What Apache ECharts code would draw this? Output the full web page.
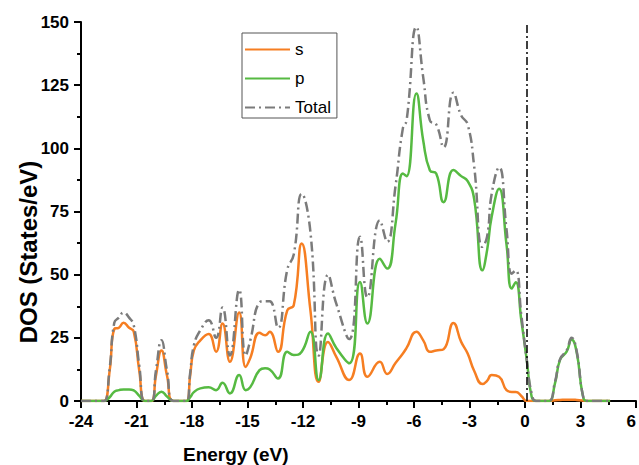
<!DOCTYPE html>
<html>
<head>
<meta charset="utf-8">
<script src="https://cdn.jsdelivr.net/npm/echarts@6/dist/echarts.min.js"></script>
<style>html,body{margin:0;padding:0;background:#fff;}#c{width:639px;height:465px;}</style>
</head>
<body>
<div id="c"></div>
<script>
var energy = [-24, -23, -22.75, -22.45, -22.2, -21.95, -21.7, -21.4, -21.15, -20.85, -20.55, -20.2, -19.95, -19.65, -19.35, -19.0, -18.3, -18.1, -17.9, -17.55, -17.1, -16.7, -16.35, -15.95, -15.45, -15.1, -14.85, -14.35, -14.05, -13.8, -13.35, -12.85, -12.5, -12.07, -11.6, -11.15, -10.65, -10.2, -9.5, -8.92, -8.52, -7.85, -7.45, -7.0, -6.6, -6.4, -5.87, -5.5, -5.14, -4.8, -4.4, -3.87, -3.45, -3.1, -2.75, -2.3, -2.05, -1.8, -1.4, -1.0, -0.72, -0.5, -0.2, 0.1, 0.36, 0.6, 1.26, 1.62, 1.89, 2.25, 2.52, 2.8, 3.12, 3.35, 4.6];
var sDos = [0, 0, 0, 12, 28.5, 29, 31, 29, 27.5, 12, 0, 0, 10, 20, 10, 0, 0, 10, 20, 24, 26.5, 19.5, 30.7, 15.5, 35, 13.5, 17, 27, 26, 27.4, 19.5, 35.9, 37.9, 62.3, 36, 7.6, 23.4, 17.5, 8.3, 18.8, 9.6, 15.5, 10.7, 15, 18.8, 21, 27.4, 24, 19.5, 20, 20.5, 30.9, 23.4, 18.8, 12, 6.7, 8, 10.3, 9.6, 4.3, 3.6, 3.6, 2, 0, 0, 0, 0, 0.3, 0.4, 0.5, 0.5, 0.4, 0.2, 0, 0];
var pDos = [0, 0, 0, 1.5, 3.7, 4.3, 4.6, 4.6, 4.2, 2, 0, 0, 2, 3.7, 1.8, 0, 0, 1.5, 3.5, 5, 5.4, 4.3, 7.2, 3, 10.3, 4.3, 5.5, 12.2, 13, 12.5, 8.9, 19.5, 18.2, 19.5, 27.4, 8.3, 26.7, 21, 14.9, 47.1, 30.7, 56.3, 52.4, 70.1, 90, 89, 121.7, 103, 91.2, 90, 78.7, 91.4, 89, 87, 80, 51.7, 59.6, 73, 84, 62, 44.5, 47, 32, 16, 1.7, 0, 0, 7, 16.2, 19.5, 24.3, 19, 2.4, 0, 0];
var totalDos = [0, 0, 0, 13, 31, 33, 35, 33, 30, 14, 0, 0, 12, 24, 12, 0, 0, 11, 22, 28, 32, 25, 37, 18, 44, 18, 24, 39, 39.5, 39.5, 29, 52, 58, 82, 67, 18, 50, 38.5, 24.5, 65, 41, 71.5, 63, 85, 108, 111, 148, 128, 111, 109.5, 100.4, 122, 113, 109.5, 93, 61, 65, 82, 92.5, 68, 50.4, 51.7, 34, 16, 3, 0, 0, 7.5, 16.5, 20, 25, 19.5, 2.6, 0, 0];
var fermiLevel = 0.1;
var xTicks = {min: -24, max: 6, step: 3};
var yTicks = {min: 0, max: 150, step: 25};

function pairs(vals) { return energy.map(function (e, i) { return [e, vals[i]]; }); }

var font = "'Liberation Sans', Arial, sans-serif";
var chart = echarts.init(document.getElementById('c'), null, {renderer: 'svg'});
chart.setOption({
  animation: false,
  backgroundColor: '#fff',
  grid: {left: 81, right: 3, top: 22, bottom: 64, containLabel: false, outerBoundsMode: 'none'},
  legend: {
    orient: 'vertical', left: 242, top: 33,
    itemWidth: 45, itemHeight: 12, itemGap: 12,
    padding: [8, 6, 2, 2],
    borderColor: '#555', borderWidth: 1,
    itemStyle: {opacity: 0},
    textStyle: {fontFamily: font, fontSize: 17, color: '#000'},
    data: ['s', 'p', 'Total']
  },
  xAxis: {
    type: 'value', min: xTicks.min, max: xTicks.max, interval: xTicks.step,
    axisLine: {onZero: true, lineStyle: {color: '#000', width: 2}},
    axisTick: {length: 7, lineStyle: {color: '#000', width: 2}},
    minorTick: {show: true, splitNumber: 2, length: 4, lineStyle: {color: '#000', width: 2}},
    splitLine: {show: false},
    axisLabel: {fontFamily: font, fontSize: 17, fontWeight: 'bold', color: '#000', margin: 12,
      alignMaxLabel: 'right'}
  },
  yAxis: {
    type: 'value', min: yTicks.min, max: yTicks.max, interval: yTicks.step,
    axisLine: {show: true, onZero: false, lineStyle: {color: '#000', width: 2}},
    axisTick: {show: true, length: 7, lineStyle: {color: '#000', width: 2}},
    minorTick: {show: true, splitNumber: 2, length: 4, lineStyle: {color: '#000', width: 2}},
    splitLine: {show: false},
    axisLabel: {fontFamily: font, fontSize: 17, fontWeight: 'bold', color: '#000', margin: 12}
  },
  graphic: [{
    type: 'text', left: 183, top: 445,
    style: {text: 'Energy (eV)', fontFamily: font, fontSize: 19, fontWeight: 'bold', fill: '#000'}
  }, {
    type: 'text', x: 28, y: 252, rotation: Math.PI / 2,
    style: {text: 'DOS (States/eV)', fontFamily: font, fontSize: 24, fontWeight: 'bold', fill: '#000',
      align: 'center', verticalAlign: 'middle'}
  }],
  series: [
    {name: 's', type: 'line', data: pairs(sDos), smooth: 0.5, symbol: 'none',
     lineStyle: {color: '#F67E22', width: 2.5}, itemStyle: {color: '#F67E22'}},
    {name: 'p', type: 'line', data: pairs(pDos), smooth: 0.5, symbol: 'none',
     lineStyle: {color: '#56BA42', width: 2.5}, itemStyle: {color: '#56BA42'}},
    {name: 'Total', type: 'line', data: pairs(totalDos), smooth: 0.5, symbol: 'none',
     lineStyle: {color: '#7B7B7B', width: 2.5, type: [10, 4, 2, 4]}, itemStyle: {color: '#7B7B7B'},
     markLine: {silent: true, symbol: ['none', 'none'], label: {show: false},
       lineStyle: {color: '#000', width: 1.5, type: [8, 3, 2, 3]},
       data: [{xAxis: fermiLevel}]}}
  ]
});
</script>
</body>
</html>
